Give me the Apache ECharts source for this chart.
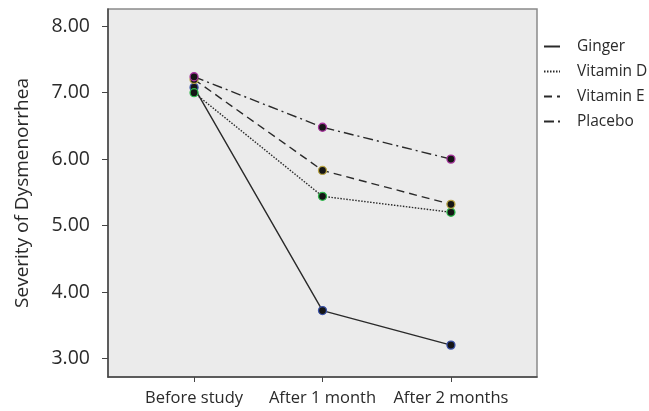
<!DOCTYPE html>
<html>
<head>
<meta charset="utf-8">
<script src="https://cdn.jsdelivr.net/npm/echarts@6/dist/echarts.min.js"></script>
<style>html,body{margin:0;padding:0;background:#fff}#c{width:649px;height:411px}</style>
</head>
<body>
<div id="c"></div>
<script>
const categories = ['Before study', 'After 1 month', 'After 2 months'];
const seriesNames = ['Ginger', 'Vitamin D', 'Vitamin E', 'Placebo'];
const ginger = [7.08, 3.72, 3.20];
const vitaminD = [7.00, 5.44, 5.20];
const vitaminE = [7.20, 5.83, 5.32];
const placebo = [7.24, 6.48, 6.00];
const yTicks = [3, 4, 5, 6, 7, 8];

const values = [ginger, vitaminD, vitaminE, placebo];
const dashes = ['solid', [1.5, 1.5], [8, 5], [10, 4, 2, 4]];
const edge = ['#3b52a8', '#2fb84c', '#b9a443', '#a8349e'];

const chart = echarts.init(document.getElementById('c'));
const font = "'Open Sans', 'Noto Sans', sans-serif";
chart.setOption({
  animation: false,
  textStyle: { fontFamily: font },
  grid: {
    left: 108, top: 9, width: 429, height: 368,
    show: true, backgroundColor: '#ebebeb', borderColor: '#8a8a8a', borderWidth: 1.5
  },
  legend: {
    orient: 'vertical', left: 543, top: 38.5, padding: 0,
    itemWidth: 16, itemHeight: 14, itemGap: 9,
    itemStyle: { opacity: 0 },
    textStyle: { fontSize: 15.5, lineHeight: 16, color: '#2a2a2a', fontFamily: font, padding: [0, 0, 0, 12] },
    data: seriesNames
  },
  xAxis: {
    type: 'value', min: -0.67, max: 2.67,
    splitLine: { show: false },
    axisLine: { show: true, onZero: false, lineStyle: { color: '#444', width: 1.5 } },
    axisTick: { show: true, length: 5, customValues: [0, 1, 2], lineStyle: { color: '#444' } },
    axisLabel: {
      customValues: [0, 1, 2], margin: 13, fontSize: 16.5, color: '#2a2a2a', fontFamily: font,
      formatter: v => categories[Math.round(v)] || ''
    }
  },
  yAxis: {
    type: 'value', min: 2.72, max: 8.26,
    name: 'Severity of Dysmenorrhea', nameLocation: 'middle', nameGap: 76,
    nameTextStyle: { fontSize: 19, color: '#2a2a2a', fontFamily: font },
    splitLine: { show: false },
    axisLine: { show: true, onZero: false, lineStyle: { color: '#444', width: 1.5 } },
    axisTick: { show: true, length: 6, customValues: yTicks, lineStyle: { color: '#444' } },
    axisLabel: {
      customValues: yTicks, margin: 18, fontSize: 19.5, color: '#2a2a2a', fontFamily: font,
      formatter: v => v.toFixed(2)
    }
  },
  series: seriesNames.map((name, i) => ({
    name: name,
    type: 'line',
    data: values[i].map((v, j) => [j, v]),
    symbol: 'circle',
    symbolSize: 8,
    lineStyle: { color: '#2a2a2a', width: 1.4, type: dashes[i] },
    itemStyle: { color: '#151515', borderColor: edge[i], borderWidth: 1.3 },
    z: 2 + i
  }))
});
</script>
</body>
</html>
